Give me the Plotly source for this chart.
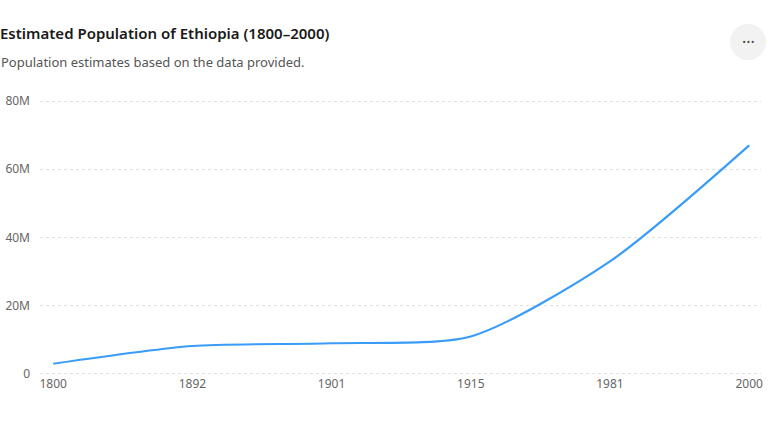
import plotly.graph_objects as go

years = ["1800", "1892", "1901", "1915", "1981", "2000"]
population = [3.0e6, 8.2e6, 9.0e6, 11.0e6, 33.0e6, 67.0e6]
y_ticks = [0, 20e6, 40e6, 60e6, 80e6]
y_tick_labels = ["0", "20M", "40M", "60M", "80M"]

title_text = "Estimated Population of Ethiopia (1800\u20132000)"
subtitle_text = "Population estimates based on the data provided."

W, H = 768, 432
L, R, T, B = 40, 5, 100, 57

fig = go.Figure()
fig.add_trace(go.Scatter(
    x=years, y=population, mode="lines",
    line=dict(color="#3a9cf7", width=2.2, shape="spline", smoothing=0.72),
    hoverinfo="x+y",
))

fig.update_layout(
    width=W, height=H,
    margin=dict(l=L, r=R, t=T, b=B),
    paper_bgcolor="white", plot_bgcolor="white",
    font=dict(family="Noto Sans, sans-serif", color="#666666", size=12),
    showlegend=False,
    xaxis=dict(
        type="category", range=[-0.095, 5.085],
        showgrid=False, zeroline=False, showline=False,
        ticks="", tickfont=dict(size=12, color="#666666"),
        fixedrange=True,
    ),
    yaxis=dict(
        range=[-0.3e6, 80.3e6], tickvals=y_ticks, ticktext=y_tick_labels,
        showgrid=True, gridcolor="#e0e0e0", griddash="3px,3px", gridwidth=1,
        zeroline=False, showline=False, ticks="",
        ticklabelstandoff=9,
        tickfont=dict(size=12, color="#666666"),
        fixedrange=True,
    ),
    annotations=[
        dict(text=title_text, x=-2, y=33, xref="paper", yref="paper",
             showarrow=False, xanchor="left", yanchor="middle",
             font=dict(size=15, color="#1a1a1a", family="Noto Sans, sans-serif", weight=600)),
        dict(text=subtitle_text, x=-1, y=62, xref="paper", yref="paper",
             showarrow=False, xanchor="left", yanchor="middle",
             font=dict(size=13, color="#555555", family="Noto Sans, sans-serif")),
        dict(text="\u00b7\u00b7\u00b7", x=750, y=42, showarrow=False,
             xanchor="center", yanchor="middle",
             font=dict(size=16, color="#444444")),
    ],
)

# convert pixel-positioned annotations to paper coords
pw, ph = W - L - R, H - T - B
anns = []
for a in fig.layout.annotations:
    a = a.to_plotly_json()
    a["x"] = (a["x"] - L) / pw
    a["y"] = 1 - (a["y"] - T) / ph
    a["xref"] = "paper"; a["yref"] = "paper"
    anns.append(a)
fig.layout.annotations = anns

cx, cy, r = 750, 42, 18
fig.add_shape(type="circle", xref="paper", yref="paper",
              x0=(cx - r - L) / pw, x1=(cx + r - L) / pw,
              y0=1 - (cy + r - T) / ph, y1=1 - (cy - r - T) / ph,
              fillcolor="#f2f2f2", line=dict(width=0), layer="below")

fig.write_html("out.html", config={"displayModeBar": False},
               post_script="document.body.style.margin='0';document.body.style.overflow='hidden';")
